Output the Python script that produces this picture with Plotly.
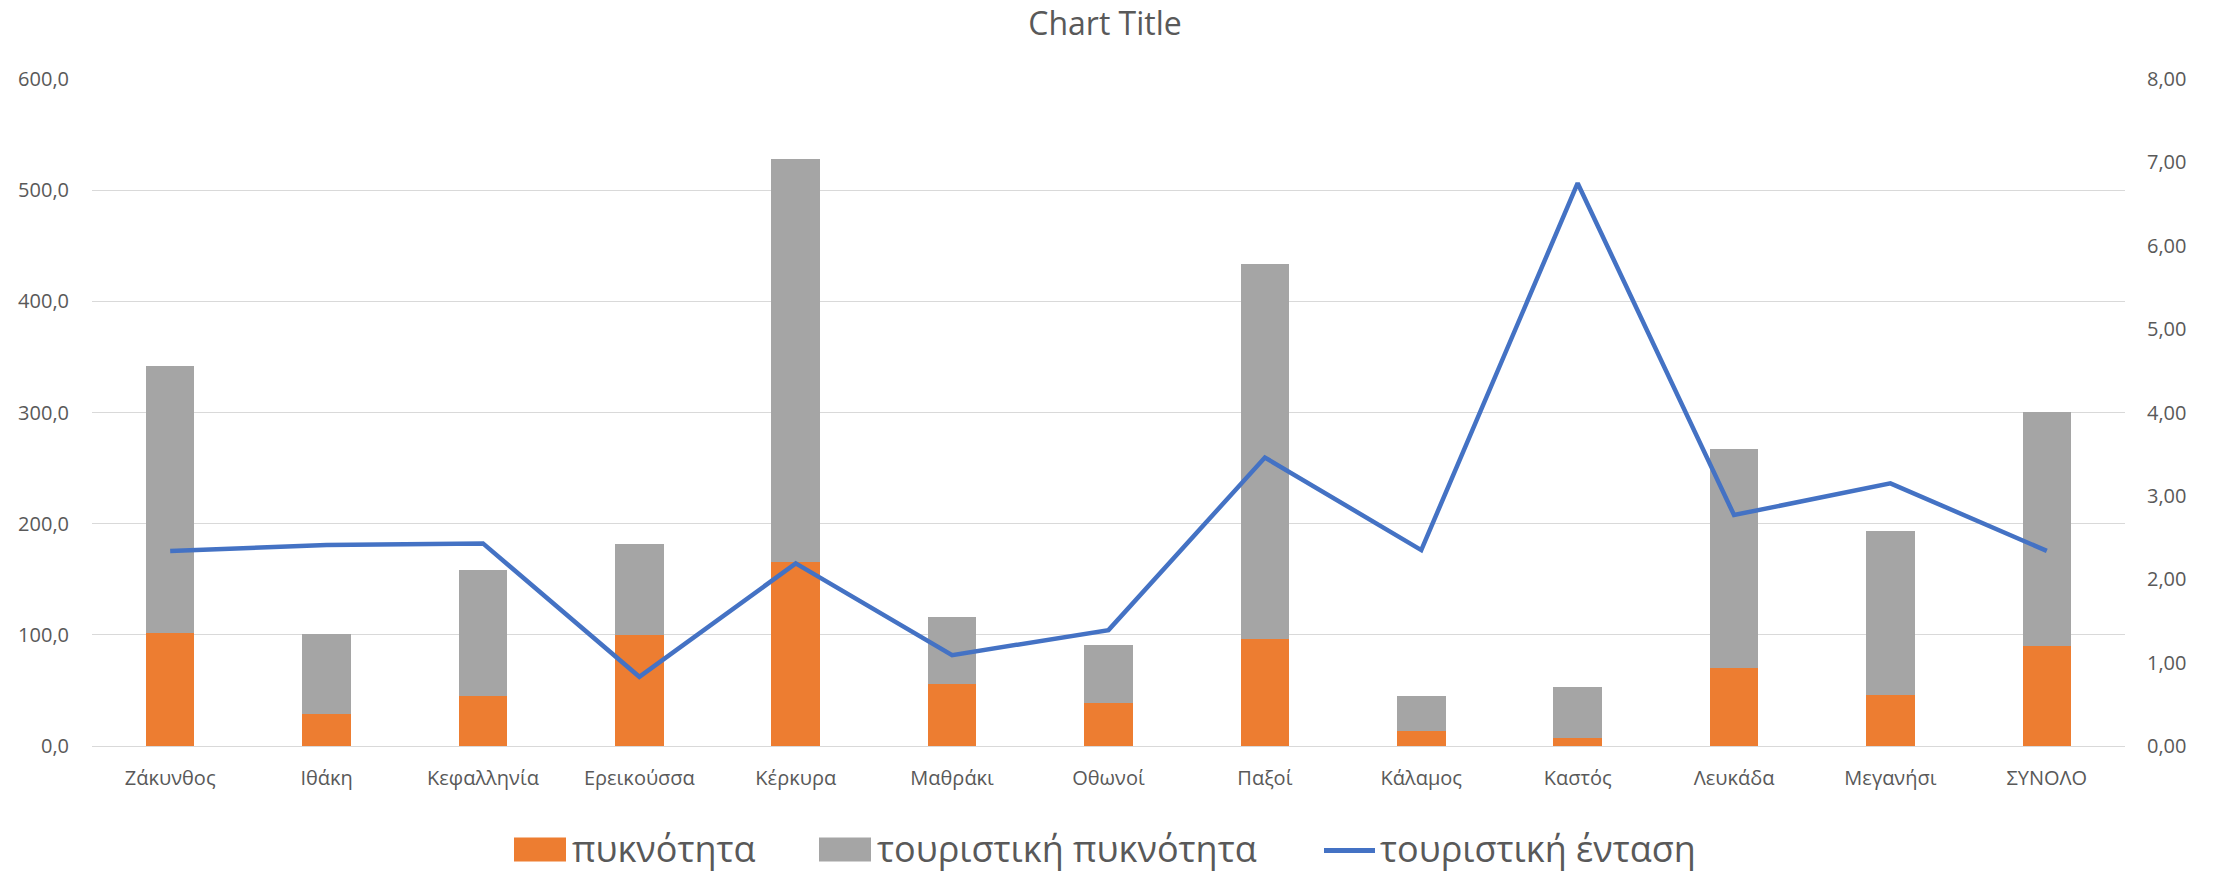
import plotly.graph_objects as go

categories = ["Ζάκυνθος", "Ιθάκη", "Κεφαλληνία", "Ερεικούσσα", "Κέρκυρα", "Μαθράκι",
              "Οθωνοί", "Παξοί", "Κάλαμος", "Καστός", "Λευκάδα", "Μεγανήσι", "ΣΥΝΟΛΟ"]
density = [101.6, 29.2, 45.3, 99.6, 165.4, 55.6, 38.3, 96.7, 13.3, 6.8, 70.4, 46.1, 90.1]
tourist_density = [240.0, 71.6, 112.7, 81.9, 362.2, 60.4, 52.2, 336.6, 32.0, 46.7, 197.1, 146.9, 210.7]
tourist_intensity = [2.34, 2.41, 2.43, 0.83, 2.19, 1.09, 1.39, 3.46, 2.35, 6.75, 2.77, 3.15, 2.34]

names = ["πυκνότητα", "τουριστική πυκνότητα", "τουριστική ένταση"]
colors = ["#ED7D31", "#A5A5A5", "#4472C4"]
left_ticks = [0, 100, 200, 300, 400, 500, 600]
right_ticks = [0, 1, 2, 3, 4, 5, 6, 7, 8]

W, H = 2221, 872
ML, MR, MT, MB = 92, 96, 79, 125.5
PW, PH = W - ML - MR, H - MT - MB

TXT = "#595959"
GRID = "#D9D9D9"
FONT = "Open Sans, Noto Sans, sans-serif"
TICKFONT = dict(family=FONT, size=20, color=TXT)


def px_x(p):
    return (p - ML) / PW


def px_y(p):
    return (H - MB - p) / PH


fig = go.Figure()
fig.add_trace(go.Bar(x=categories, y=density, name=names[0], marker_color=colors[0],
                     marker_line_width=0, yaxis="y", showlegend=False))
fig.add_trace(go.Bar(x=categories, y=tourist_density, name=names[1], marker_color=colors[1],
                     marker_line_width=0, yaxis="y", showlegend=False))
fig.add_trace(go.Scatter(x=categories, y=tourist_intensity, name=names[2], mode="lines",
                         line=dict(color=colors[2], width=4.5), yaxis="y2", showlegend=False))

# Legend (Excel style: wide swatches), drawn in paper coordinates
legend_items = [
    # (kind, swatch x0, swatch x1, text x)
    ("rect", 514, 566, 570),
    ("rect", 819, 871, 875),
    ("line", 1322, 1377, 1378),
]
shapes = []
annotations = []
ly = 850
for (kind, x0, x1, tx), name, col in zip(legend_items, names, colors):
    if kind == "rect":
        shapes.append(dict(type="rect", xref="paper", yref="paper",
                           x0=px_x(x0), x1=px_x(x1), y0=px_y(ly + 12), y1=px_y(ly - 12),
                           fillcolor=col, line_width=0))
    else:
        shapes.append(dict(type="line", xref="paper", yref="paper",
                           x0=px_x(x0 + 2), x1=px_x(x1 - 2), y0=px_y(ly + 1), y1=px_y(ly + 1),
                           line=dict(color=col, width=5)))
    annotations.append(dict(text=name, xref="paper", yref="paper", x=px_x(tx), y=px_y(ly - 1),
                            xanchor="left", yanchor="middle", showarrow=False,
                            font=dict(family=FONT, size=36, color=TXT)))

fig.update_layout(
    width=W, height=H,
    paper_bgcolor="white", plot_bgcolor="white",
    barmode="stack", bargap=0.69,
    separators=",.",
    showlegend=False,
    margin=dict(l=ML, r=MR, t=MT, b=MB, pad=0, autoexpand=False),
    title=dict(text="Chart Title", x=1105 / W, xanchor="center", y=1 - 24 / H, yanchor="middle",
               font=dict(family=FONT, size=32, color=TXT)),
    xaxis=dict(tickfont=TICKFONT, showgrid=False, showline=True, linecolor=GRID, linewidth=1.3,
               ticks="", ticklabelstandoff=14),
    yaxis=dict(range=[0, 600], tickvals=left_ticks, tickformat=".1f", tickfont=TICKFONT,
               gridcolor=GRID, gridwidth=1.3, zeroline=False, showline=False, ticks="",
               ticklabelstandoff=22),
    yaxis2=dict(range=[0, 8], tickvals=right_ticks, tickformat=".2f", tickfont=TICKFONT,
                overlaying="y", side="right", showgrid=False, zeroline=False, showline=False,
                ticks="", ticklabelstandoff=21),
    shapes=shapes,
    annotations=annotations,
)

fig.write_html("out.html", config={"displayModeBar": False},
               post_script="document.body.style.margin='0px';")
